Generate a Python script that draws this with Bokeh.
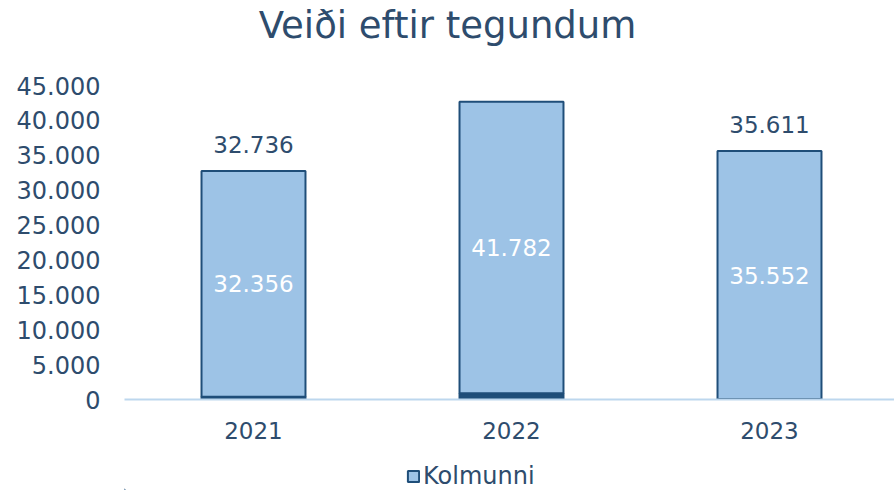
from bokeh.plotting import figure
from bokeh.layouts import column
from bokeh.models import ColumnDataSource, Range1d, FixedTicker, Legend, LegendItem, LabelSet, CustomJSTickFormatter
from bokeh.embed import file_html
from bokeh.resources import INLINE
from bokeh.core.properties import value

years = ["2021", "2022", "2023"]
kolmunni = [32356, 41782, 35552]
totals = [32736, 42667, 35611]
y_ticks = [0, 5000, 10000, 15000, 20000, 25000, 30000, 35000, 40000, 45000]
title_text = "Veiði eftir tegundum"
series_name = "Kolmunni"

def fmt(v):
    return f"{v:,}".replace(",", ".")

idx = list(range(len(years)))
other = [t - k for t, k in zip(totals, kolmunni)]
src = ColumnDataSource(dict(
    x=idx,
    other=other,
    kol_bottom=other,
    kol_top=totals,
    kol_mid=[o + k / 2 for o, k in zip(other, kolmunni)],
    kol_lbl=[fmt(k) for k in kolmunni],
    tot=totals,
    tot_lbl=[fmt(t) for t in totals],
    zero=[0] * len(years),
))

TXT = "#2E4C6D"
FONT = "DejaVu Sans"
FILL = "#9DC3E6"
EDGE = "#1F4E79"

def strip(h):
    f = figure(width=894, height=h, output_backend="svg", toolbar_location=None,
               x_range=Range1d(124, 894), y_range=Range1d(0, h),
               min_border_left=124, min_border_right=0, min_border_top=0, min_border_bottom=0)
    f.title = None
    f.axis.visible = False
    f.grid.grid_line_color = None
    f.outline_line_color = None
    return f

# title strip
TS_H = 55
ts = strip(TS_H)
ts.text(x=[447], y=[TS_H - 25], text=[title_text], text_align="center", text_baseline="middle",
        text_font=value(FONT), text_font_size="37px", text_color=TXT)

p = figure(width=894, height=405, output_backend="svg", toolbar_location=None,
           x_range=Range1d(-0.5, -0.5 + 770 / 258), y_range=Range1d(0, 45000),
           min_border_left=124, min_border_right=0, min_border_top=30, min_border_bottom=61)
p.title = None
p.outline_line_color = None
p.grid.grid_line_color = None
p.background_fill_color = "white"
p.border_fill_color = "white"

p.vbar(x="x", bottom="zero", top="other", width=0.403, source=src,
       fill_color=EDGE, line_color=EDGE, line_width=2)
p.vbar(x="x", bottom="kol_bottom", top="kol_top", width=0.403, source=src,
       fill_color=FILL, line_color=EDGE, line_width=2)

p.add_layout(LabelSet(x="x", y="kol_mid", text="kol_lbl", source=src, text_align="center",
                      text_baseline="middle", text_color="white", text_font=value(FONT),
                      text_font_size="23px"))
p.add_layout(LabelSet(x="x", y="tot", text="tot_lbl", source=src, text_align="center",
                      text_baseline="middle", y_offset=27, text_color=TXT, text_font=value(FONT),
                      text_font_size="23px"))

p.xaxis.ticker = FixedTicker(ticks=idx)
p.xaxis.major_label_overrides = {i: y for i, y in zip(idx, years)}
p.xaxis.axis_line_color = "#BDD7EE"
p.xaxis.axis_line_width = 2
p.xaxis.major_tick_line_color = None
p.xaxis.minor_tick_line_color = None
p.xaxis.major_label_text_font = FONT
p.xaxis.major_label_text_font_size = "23px"
p.xaxis.major_label_text_color = TXT
p.xaxis.major_label_standoff = 16

p.yaxis.ticker = FixedTicker(ticks=y_ticks)
p.yaxis.formatter = CustomJSTickFormatter(code="return tick.toLocaleString('de-DE');")
p.yaxis.axis_line_color = None
p.yaxis.major_tick_line_color = None
p.yaxis.minor_tick_line_color = None
p.yaxis.major_label_text_font = FONT
p.yaxis.major_label_text_font_size = "24px"
p.yaxis.major_label_text_color = TXT
p.yaxis.major_label_standoff = 18

# legend strip
lg = strip(30)
dummy = lg.vbar(x=[-1000], top=[1], bottom=[0], width=1, fill_color=FILL, line_color=EDGE, line_width=2)
legend = Legend(items=[LegendItem(label=series_name, renderers=[dummy])],
                orientation="horizontal", location=(282, 0),
                label_text_font=FONT, label_text_font_size="24px", label_text_color=TXT,
                glyph_width=14, glyph_height=14, label_standoff=3, label_height=24,
                border_line_color=None, background_fill_alpha=0, padding=0, margin=0)
lg.add_layout(legend)

layout = column(ts, p, lg, spacing=0)
open("out.html", "w").write(file_html(layout, INLINE))
